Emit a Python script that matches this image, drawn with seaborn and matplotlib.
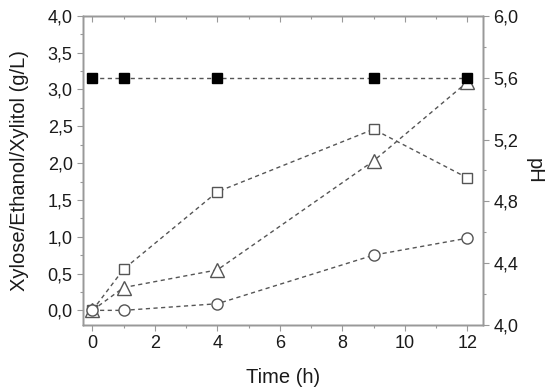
import matplotlib
matplotlib.use("Agg")
import matplotlib.pyplot as plt
import seaborn as sns
from matplotlib.ticker import MultipleLocator, FuncFormatter, NullFormatter

sns.set_theme(style="white")
plt.rcParams['font.family'] = ['Liberation Sans', 'DejaVu Sans']

time = [0, 1, 4, 9, 12]
xylose = [0.0, 0.56, 1.61, 2.46, 1.80]      # open squares
ethanol = [0.0, 0.31, 0.55, 2.03, 3.10]     # open triangles
xylitol = [0.0, 0.0, 0.09, 0.75, 0.98]      # open circles
ph = [5.6, 5.6, 5.6, 5.6, 5.6]              # filled squares (right axis)

fig = plt.figure(figsize=(5.5, 3.87), dpi=100)
ax = fig.add_axes([0.151, 0.160, 0.727, 0.799])
ax2 = ax.twinx()
ax3 = ax.twiny()

line_kw = dict(color='#555555', linestyle=(0, (3, 2.5)), linewidth=1.0)
edge = '#555555'

sns.lineplot(x=time, y=xylose, ax=ax, marker='s', markersize=7.5, markerfacecolor='white',
             markeredgecolor=edge, markeredgewidth=1.0, **line_kw)
sns.lineplot(x=time, y=ethanol, ax=ax, marker='^', markersize=9.5, markerfacecolor='white',
             markeredgecolor=edge, markeredgewidth=1.0, **line_kw)
sns.lineplot(x=time, y=xylitol, ax=ax, marker='o', markersize=8, markerfacecolor='white',
             markeredgecolor=edge, markeredgewidth=1.0, **line_kw)
sns.lineplot(x=time, y=ph, ax=ax2, marker='s', markersize=7.5, markerfacecolor='black',
             markeredgecolor='black', markeredgewidth=1.0, **line_kw)

ax.set_xlim(-0.3, 12.5)
ax.set_ylim(-0.2, 4.0)
ax2.set_ylim(4.0, 6.0)
ax3.set_xlim(-0.3, 12.5)

comma = lambda d: FuncFormatter(lambda v, p: (f"{v:.{d}f}").replace('.', ','))
for a in (ax, ax3):
    a.xaxis.set_major_locator(MultipleLocator(2))
    a.xaxis.set_minor_locator(MultipleLocator(1))
ax3.xaxis.set_major_formatter(NullFormatter())
ax.yaxis.set_major_locator(MultipleLocator(0.5))
ax.yaxis.set_minor_locator(MultipleLocator(0.25))
ax.yaxis.set_major_formatter(comma(1))
ax2.yaxis.set_major_locator(MultipleLocator(0.4))
ax2.yaxis.set_minor_locator(MultipleLocator(0.2))
ax2.yaxis.set_major_formatter(comma(1))

spine_c = '#999999'
for a in (ax, ax2, ax3):
    for s in a.spines.values():
        s.set_color(spine_c)
        s.set_linewidth(1.0)
        s.set_visible(True)
    a.grid(False)

ax.tick_params(axis='both', which='both', direction='out', color=spine_c, labelsize=13,
               labelcolor='#1a1a1a', bottom=True, left=True, top=False, right=False, pad=3)
ax.tick_params(which='major', length=4.5, width=0.8)
ax.tick_params(which='minor', length=2.5, width=0.8)
ax2.tick_params(axis='y', which='both', direction='out', color=spine_c, labelsize=13,
                labelcolor='#1a1a1a', right=True, left=False, pad=3)
ax2.tick_params(which='major', length=4.5, width=0.8)
ax2.tick_params(which='minor', length=2.5, width=0.8)
ax3.tick_params(axis='x', which='both', direction='in', color=spine_c, top=True,
                bottom=False, labeltop=False)
ax3.tick_params(which='major', length=4.5, width=0.8)
ax3.tick_params(which='minor', length=2.5, width=0.8)

ax.set_xlabel('Time (h)', fontsize=14.5, color='#1a1a1a', labelpad=11)
ax.set_ylabel('Xylose/Ethanol/Xylitol (g/L)', fontsize=14.5, color='#1a1a1a', labelpad=13)
ax2.set_ylabel('pH', fontsize=14.5, color='#1a1a1a', rotation=270, labelpad=18)

fig.savefig('out.png', dpi=100)
